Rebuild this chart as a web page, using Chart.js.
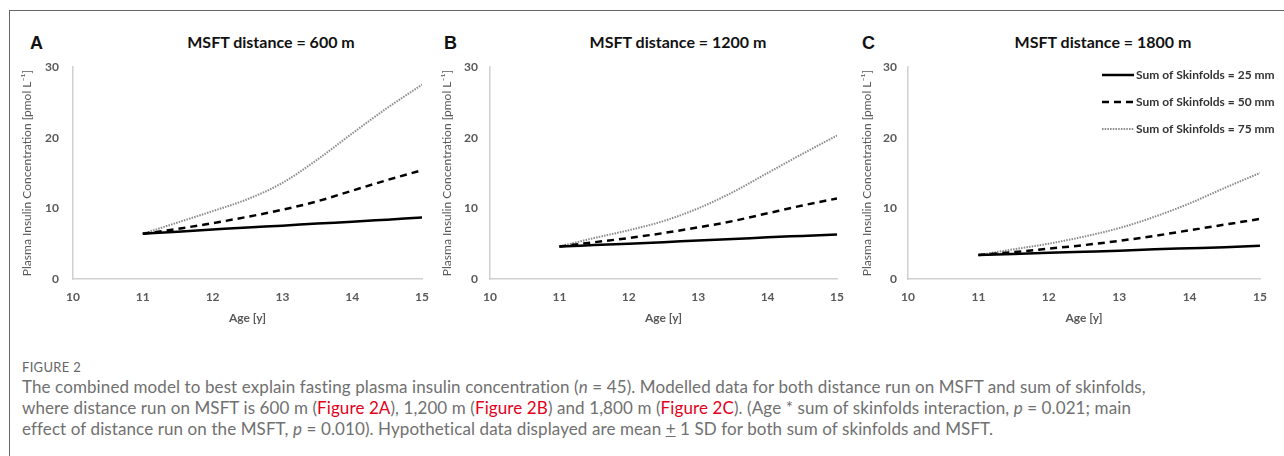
<!DOCTYPE html>
<html>
<head>
<meta charset="utf-8">
<script src="https://cdn.jsdelivr.net/npm/chart.js@4.4.0/dist/chart.umd.min.js"></script>
<style>
  html, body { margin: 0; padding: 0; background: #fff; }
  body { width: 1284px; height: 456px; position: relative; overflow: hidden; font-family: Lato, "Open Sans", sans-serif; }
  .frame-top { position: absolute; left: 10px; top: 10px; width: 1274px; height: 0; border-top: 1.5px solid #666; }
  .frame-left { position: absolute; left: 9px; top: 10px; width: 0; height: 446px; border-left: 1.5px solid #666; }
  .panel { position: absolute; top: 20px; height: 310px; }
  .letter { position: absolute; top: 33px; font-family: "Liberation Sans", Arial, sans-serif; font-weight: bold; font-size: 18px; color: #111; }
  .title { position: absolute; top: 32px; font-weight: bold; font-size: 16px; color: #111; transform: translateX(-50%); white-space: nowrap; }
  .fig { position: absolute; left: 22px; top: 359px; font-size: 13px; color: #666; letter-spacing: 0.3px; }
  .cap { position: absolute; left: 22px; top: 376px; font-size: 17px; font-weight: 400; letter-spacing: 0.1px; line-height: 21px; color: #707070; white-space: nowrap; }
  .cap span.r { color: #e3001b; }
</style>
</head>
<body>
<div class="frame-top"></div>
<div class="frame-left"></div>

<div class="letter" style="left:30px">A</div>
<div class="letter" style="left:444px">B</div>
<div class="letter" style="left:862px">C</div>
<div class="title" style="left:271px">MSFT distance = 600 m</div>
<div class="title" style="left:678px">MSFT distance = 1200 m</div>
<div class="title" style="left:1103px">MSFT distance = 1800 m</div>

<div class="panel" style="left:20px;width:420px"><canvas id="chartA"></canvas></div>
<div class="panel" style="left:440px;width:420px"><canvas id="chartB"></canvas></div>
<div class="panel" style="left:860px;width:424px"><canvas id="chartC"></canvas></div>

<div class="fig">FIGURE 2</div>
<div class="cap">
The combined model to best explain fasting plasma insulin concentration (<i>n</i> = 45). Modelled data for both distance run on MSFT and sum of skinfolds,<br>
where distance run on MSFT is 600 m (<span class="r">Figure 2A</span>), 1,200 m (<span class="r">Figure 2B</span>) and 1,800 m (<span class="r">Figure 2C</span>). (Age * sum of skinfolds interaction, <i>p</i> = 0.021; main<br>
effect of distance run on the MSFT, <i>p</i> = 0.010). Hypothetical data displayed are mean <u>+</u> 1 SD for both sum of skinfolds and MSFT.
</div>

<script>
// ages (x values)
const AGES = [11, 11.5, 12, 12.5, 13, 13.5, 14, 14.5, 15];
const SERIES_LABELS = ['Sum of Skinfolds = 25 mm', 'Sum of Skinfolds = 50 mm', 'Sum of Skinfolds = 75 mm'];

// MSFT 600 m
const A_SF25 = [6.4, 6.7, 7.0, 7.3, 7.55, 7.85, 8.1, 8.4, 8.7];
const A_SF50 = [6.4, 7.1, 7.9, 8.8, 9.8, 11.0, 12.5, 14.0, 15.4];
const A_SF75 = [6.4, 8.0, 9.6, 11.3, 13.6, 16.9, 20.6, 24.2, 27.5];

// MSFT 1200 m
const B_SF25 = [4.6, 4.8, 5.0, 5.2, 5.45, 5.65, 5.9, 6.1, 6.3];
const B_SF50 = [4.6, 5.2, 5.8, 6.5, 7.3, 8.2, 9.3, 10.4, 11.4];
const B_SF75 = [4.6, 5.8, 6.9, 8.2, 10.0, 12.3, 15.0, 17.7, 20.3];

// MSFT 1800 m
const C_SF25 = [3.4, 3.55, 3.7, 3.85, 4.0, 4.2, 4.35, 4.5, 4.7];
const C_SF50 = [3.4, 3.8, 4.3, 4.8, 5.4, 6.1, 6.9, 7.7, 8.5];
const C_SF75 = [3.4, 4.2, 5.0, 6.0, 7.2, 8.8, 10.7, 12.9, 15.0];

const X_MIN = 10, X_MAX = 15;
const Y_MIN = 0, Y_MAX = 30;

const AXIS_GREY = '#595959';

// draws the line-sample legend inside panel C
const lineLegend = {
  id: 'lineLegend',
  afterDraw(chart, args, opts) {
    if (!opts.show) return;
    const ctx = chart.ctx;
    ctx.save();
    chart.data.datasets.forEach((ds, i) => {
      const y = opts.top + i * opts.rowGap;
      ctx.strokeStyle = ds.borderColor;
      ctx.lineWidth = ds.borderWidth;
      ctx.setLineDash(ds.borderDash || []);
      ctx.beginPath();
      ctx.moveTo(opts.left, y);
      ctx.lineTo(opts.left + opts.lineLen, y);
      ctx.stroke();
      ctx.setLineDash([]);
      ctx.fillStyle = '#333';
      ctx.font = 'bold 12px Lato';
      ctx.textBaseline = 'middle';
      ctx.fillText(ds.label, opts.left + opts.lineLen + 2, y);
    });
    ctx.restore();
  }
};

function makeDatasets(sf25, sf50, sf75) {
  const pts = vals => AGES.map((a, i) => ({ x: a, y: vals[i] }));
  return [{
    label: SERIES_LABELS[0],
    data: pts(sf25),
    borderColor: '#000',
    borderWidth: 2.5
  }, {
    label: SERIES_LABELS[1],
    data: pts(sf50),
    borderColor: '#000',
    borderWidth: 2.5,
    borderDash: [7, 5]
  }, {
    label: SERIES_LABELS[2],
    data: pts(sf75),
    borderColor: '#8a8a8a',
    borderWidth: 2,
    borderDash: [1.5, 1.2]
  }];
}

function makeChart(id, datasets, pad, legend) {
  new Chart(document.getElementById(id), {
    type: 'line',
    data: { datasets: datasets },
    plugins: [lineLegend],
    options: {
      responsive: true,
      maintainAspectRatio: false,
      animation: false,
      elements: { point: { radius: 0 }, line: { cubicInterpolationMode: 'monotone', fill: false } },
      layout: { padding: { top: 47, right: pad.right, bottom: 0, left: 0 } },
      plugins: {
        legend: { display: false },
        tooltip: { enabled: false },
        lineLegend: legend
      },
      scales: {
        x: {
          type: 'linear',
          min: X_MIN, max: X_MAX,
          grid: { display: false, drawTicks: false },
          border: { color: '#d0d0d0', width: 1.5 },
          ticks: { stepSize: 1, padding: 11, color: AXIS_GREY, font: { family: 'Lato', size: 12, weight: 'bold' } },
          title: { display: true, text: 'Age [y]', color: AXIS_GREY, font: { family: 'Lato', size: 12, weight: 'bold' }, padding: { top: 2, bottom: 5 } },
          afterFit: s => { s.height = 51; }
        },
        y: {
          min: Y_MIN, max: Y_MAX,
          grid: { display: false, drawTicks: false },
          border: { color: '#d0d0d0', width: 1.5 },
          ticks: { stepSize: 10, padding: pad.tick, color: AXIS_GREY, font: { family: 'Lato', size: 12, weight: 'bold' } },
          title: { display: true, text: 'Plasma Insulin Concentration [pmol L\u207B\u00B9]', color: AXIS_GREY, font: { family: 'Lato', size: 12 }, padding: { top: 0, bottom: 0 } },
          afterFit: s => { s.width = pad.left; }
        }
      }
    }
  });
}

makeChart('chartA', makeDatasets(A_SF25, A_SF50, A_SF75), { left: 53, right: 9, tick: 14 }, { show: false });
makeChart('chartB', makeDatasets(B_SF25, B_SF50, B_SF75), { left: 50, right: 23, tick: 12 }, { show: false });
makeChart('chartC', makeDatasets(C_SF25, C_SF50, C_SF75), { left: 48, right: 24, tick: 11 },
  { show: true, left: 242, top: 55, rowGap: 27, lineLen: 32 });
</script>
</body>
</html>
